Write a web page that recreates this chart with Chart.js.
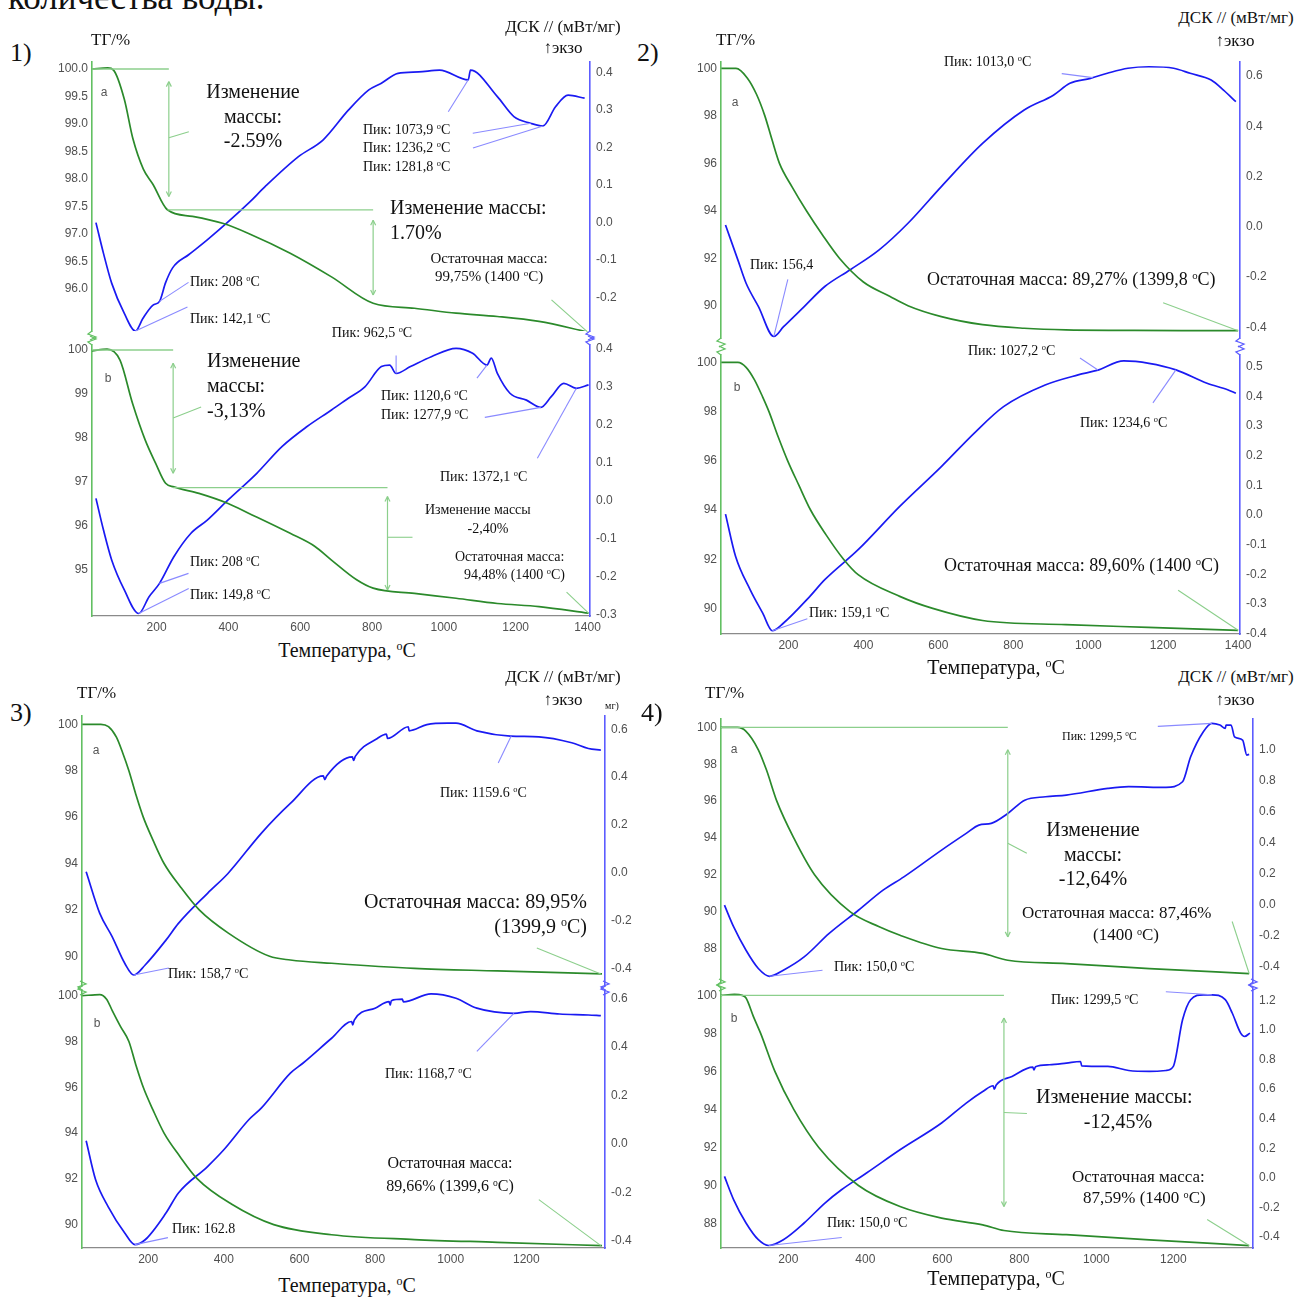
<!DOCTYPE html>
<html>
<head>
<meta charset="utf-8">
<title>ТГ / ДСК</title>
<script src="https://cdn.jsdelivr.net/npm/chart.js@4.4.1/dist/chart.umd.min.js"></script>
<style>
  body { margin: 0; background: #fff; }
  #page { position: relative; width: 1302px; height: 1297px; overflow: hidden;
          font-family: 'Liberation Serif', 'Times New Roman', serif; color: #111; }
  #page canvas { position: absolute; }
  .t { position: absolute; white-space: nowrap; line-height: 1.15; }
  .t sup { font-size: 0.6em; vertical-align: 0.55em; line-height: 0; }
  .lt { font-family: 'Liberation Sans', Arial, sans-serif; color: #555; }
</style>
</head>
<body>
<div id="page"></div>
<script>
// ---------- data: temperature (°C) / TG (%) / DSC (mW/mg) ----------
// 1a
const p1aTgT = [20, 64, 80, 110, 134, 163, 190, 230, 300, 386, 456, 572, 687, 803, 918, 1034, 1149, 1265, 1400];
const p1aTg = [100.0, 100.02, 99.98, 99.45, 98.73, 98.18, 97.9, 97.44, 97.32, 97.19, 97.01, 96.65, 96.22, 95.74, 95.65, 95.56, 95.5, 95.41, 95.22];
const p1aDscT = [31, 52, 75, 110, 141, 162, 190, 208, 225, 245, 290, 341, 456, 502, 595, 664, 734, 791, 826, 872, 930, 988, 1068, 1074, 1149, 1195, 1242, 1276, 1311, 1346, 1392];
const p1aDsc = [0.0, -0.082, -0.162, -0.242, -0.289, -0.255, -0.22, -0.21, -0.16, -0.12, -0.085, -0.046, 0.052, 0.096, 0.176, 0.221, 0.3, 0.354, 0.372, 0.398, 0.402, 0.407, 0.381, 0.407, 0.336, 0.283, 0.265, 0.258, 0.309, 0.34, 0.332];
// 1b
const p1bTgT = [20, 62, 98, 133, 168, 197, 225, 248, 318, 399, 456, 572, 641, 687, 757, 803, 918, 1034, 1149, 1265, 1403];
const p1bTg = [99.98, 100.02, 99.77, 98.78, 97.95, 97.42, 96.96, 96.88, 96.73, 96.5, 96.28, 95.82, 95.52, 95.21, 94.76, 94.57, 94.45, 94.34, 94.22, 94.15, 94.0];
const p1bDscT = [31, 52, 75, 110, 150, 179, 208, 248, 295, 341, 399, 479, 549, 618, 687, 734, 780, 826, 849, 867, 907, 965, 1034, 1080, 1120, 1132, 1149, 1184, 1230, 1270, 1299, 1334, 1369, 1403];
const p1bDsc = [0.006, -0.077, -0.156, -0.234, -0.296, -0.252, -0.217, -0.147, -0.086, -0.051, 0.002, 0.072, 0.142, 0.194, 0.238, 0.269, 0.299, 0.352, 0.356, 0.334, 0.352, 0.378, 0.4, 0.387, 0.356, 0.374, 0.334, 0.282, 0.264, 0.245, 0.273, 0.308, 0.295, 0.304];
// 2a
const p2aTgT = [21, 60, 90, 115, 137, 156, 176, 210, 248, 290, 336, 400, 470, 519, 608, 718, 829, 940, 1100, 1250, 1400];
const p2aTg = [100, 100, 99.6, 98.9, 98, 97, 96, 95, 94, 93, 92, 91, 90.4, 90, 89.54, 89.2, 89.05, 88.98, 88.96, 88.95, 88.95];
const p2aDscT = [32, 65, 87, 120, 161, 187, 242, 297, 364, 442, 519, 608, 718, 829, 907, 951, 1006, 1051, 1106, 1162, 1228, 1272, 1328, 1361, 1394];
const p2aDsc = [0.007, -0.132, -0.225, -0.318, -0.437, -0.398, -0.318, -0.238, -0.172, -0.092, 0.014, 0.16, 0.332, 0.465, 0.524, 0.571, 0.591, 0.611, 0.631, 0.637, 0.631, 0.611, 0.584, 0.544, 0.498];
// 2b
const p2bTgT = [21, 65, 87, 109, 131, 148, 172, 198, 228, 259, 300, 347, 386, 497, 585, 718, 940, 1160, 1400];
const p2bTg = [100, 100, 99.8, 99.3, 98.6, 98, 97, 96, 95, 94, 93, 92, 91.37, 90.49, 90, 89.51, 89.34, 89.23, 89.11];
const p2bDscT = [32, 59, 98, 131, 157, 187, 253, 297, 386, 497, 608, 696, 774, 885, 973, 1023, 1095, 1162, 1234, 1317, 1372, 1394];
const p2bDsc = [0.003, -0.14, -0.252, -0.33, -0.39, -0.364, -0.28, -0.218, -0.117, 0.029, 0.163, 0.276, 0.365, 0.438, 0.472, 0.487, 0.519, 0.511, 0.489, 0.444, 0.422, 0.41];
// 3a
const p3aTgT = [26, 75, 95, 116, 132, 149, 167, 187, 213, 242, 285, 335, 412, 521, 576, 685, 904, 1123, 1400];
const p3aTg = [100, 100, 99.9, 99.45, 98.8, 98, 97, 96, 95, 94, 93, 92, 91, 90, 89.84, 89.7, 89.48, 89.37, 89.24];
const p3aDscT = [36, 72, 105, 138, 162, 192, 247, 280, 357, 411, 499, 576, 663, 667, 672, 740, 743, 748, 806, 830, 833, 888, 890, 937, 992, 1014, 1069, 1158, 1233, 1320, 1364, 1397];
const p3aDsc = [0.004, -0.17, -0.268, -0.379, -0.428, -0.386, -0.282, -0.212, -0.086, -0.003, 0.165, 0.29, 0.405, 0.39, 0.405, 0.485, 0.47, 0.488, 0.562, 0.58, 0.562, 0.611, 0.594, 0.62, 0.626, 0.626, 0.594, 0.572, 0.569, 0.544, 0.52, 0.513];
// 3b
const p3bTgT = [26, 72, 90, 105, 127, 149, 167, 187, 213, 242, 283, 330, 420, 532, 685, 904, 1123, 1400];
const p3bTg = [100, 100.05, 99.85, 99.35, 98.65, 98, 97, 96, 95, 94, 93, 92, 90.9, 90, 89.56, 89.35, 89.23, 89.08];
const p3bDscT = [36, 61, 94, 138, 165, 192, 247, 280, 357, 400, 466, 499, 576, 609, 685, 738, 741, 745, 800, 837, 840, 843, 872, 875, 948, 1014, 1069, 1167, 1211, 1288, 1364, 1397];
const p3bDsc = [0.012, -0.149, -0.259, -0.368, -0.416, -0.396, -0.286, -0.203, -0.094, -0.025, 0.099, 0.147, 0.291, 0.332, 0.435, 0.504, 0.49, 0.51, 0.559, 0.586, 0.572, 0.59, 0.596, 0.585, 0.618, 0.6, 0.559, 0.538, 0.545, 0.535, 0.531, 0.528];
// 4a
const p4aTgT = [25, 68, 90, 122, 143, 170, 214, 268, 360, 436, 490, 598, 705, 770, 922, 1138, 1397];
const p4aTg = [100, 100, 99.79, 98.79, 97.7, 96, 94, 92, 90, 89.18, 88.72, 88, 87.73, 87.36, 87.18, 86.91, 86.64];
const p4aDscT = [34, 58, 90, 122, 151, 187, 241, 306, 382, 446, 500, 598, 662, 695, 727, 770, 814, 868, 922, 1030, 1084, 1181, 1224, 1245, 1278, 1300, 1321, 1335, 1337, 1350, 1359, 1380, 1391, 1397];
const p4aDsc = [-0.005, -0.146, -0.297, -0.415, -0.465, -0.426, -0.34, -0.188, -0.038, 0.092, 0.178, 0.351, 0.459, 0.513, 0.524, 0.588, 0.674, 0.696, 0.707, 0.75, 0.761, 0.757, 0.793, 0.955, 1.117, 1.171, 1.16, 1.139, 1.16, 1.16, 1.084, 1.063, 0.966, 0.97];
// 4b
const p4bTgT = [25, 60, 80, 90, 109, 128, 165, 214, 279, 382, 490, 598, 705, 760, 922, 1138, 1397];
const p4bTg = [100, 100.05, 100, 99.86, 98.9, 98, 96, 94, 92, 90, 88.89, 88.28, 87.93, 87.63, 87.41, 87.14, 86.84];
const p4bDscT = [34, 58, 90, 122, 149, 187, 241, 295, 338, 403, 490, 598, 662, 705, 732, 735, 740, 781, 835, 838, 842, 878, 922, 959, 962, 1030, 1084, 1138, 1181, 1200, 1224, 1245, 1278, 1300, 1335, 1353, 1375, 1385, 1399];
const p4bDsc = [0.01, -0.148, -0.305, -0.418, -0.457, -0.418, -0.305, -0.17, -0.08, 0.033, 0.19, 0.371, 0.506, 0.584, 0.623, 0.6, 0.628, 0.686, 0.749, 0.73, 0.752, 0.765, 0.776, 0.787, 0.758, 0.754, 0.726, 0.72, 0.726, 0.754, 1.069, 1.205, 1.238, 1.238, 1.205, 1.115, 0.979, 0.956, 0.979];

// ---------- tick values / labels ----------
const tg1aTicks = [100, 99.5, 99, 98.5, 98, 97.5, 97, 96.5, 96];
const tg1aLabels = ['100.0', '99.5', '99.0', '98.5', '98.0', '97.5', '97.0', '96.5', '96.0'];
const tg1bTicks = [100, 99, 98, 97, 96, 95];
const tg1bLabels = ['100', '99', '98', '97', '96', '95'];
const tgEvenTicks = [100, 98, 96, 94, 92, 90];
const tgEvenLabels = ['100', '98', '96', '94', '92', '90'];
const tg4Ticks = [100, 98, 96, 94, 92, 90, 88];
const tg4Labels = ['100', '98', '96', '94', '92', '90', '88'];
const dsc1aTicks = [0.4, 0.3, 0.2, 0.1, 0, -0.1, -0.2];
const dsc1aLabels = ['0.4', '0.3', '0.2', '0.1', '0.0', '-0.1', '-0.2'];
const dsc1bTicks = [0.4, 0.3, 0.2, 0.1, 0, -0.1, -0.2, -0.3];
const dsc1bLabels = ['0.4', '0.3', '0.2', '0.1', '0.0', '-0.1', '-0.2', '-0.3'];
const dsc6Ticks = [0.6, 0.4, 0.2, 0, -0.2, -0.4];
const dsc6Labels = ['0.6', '0.4', '0.2', '0.0', '-0.2', '-0.4'];
const dsc2bTicks = [0.5, 0.4, 0.3, 0.2, 0.1, 0, -0.1, -0.2, -0.3, -0.4];
const dsc2bLabels = ['0.5', '0.4', '0.3', '0.2', '0.1', '0.0', '-0.1', '-0.2', '-0.3', '-0.4'];
const dsc4aTicks = [1.0, 0.8, 0.6, 0.4, 0.2, 0, -0.2, -0.4];
const dsc4aLabels = ['1.0', '0.8', '0.6', '0.4', '0.2', '0.0', '-0.2', '-0.4'];
const dsc4bTicks = [1.2, 1.0, 0.8, 0.6, 0.4, 0.2, 0, -0.2, -0.4];
const dsc4bLabels = ['1.2', '1.0', '0.8', '0.6', '0.4', '0.2', '0.0', '-0.2', '-0.4'];
const xTicksTo1400 = [200, 400, 600, 800, 1000, 1200, 1400];
const xLabelsTo1400 = ['200', '400', '600', '800', '1000', '1200', '1400'];
const xTicksTo1200 = [200, 400, 600, 800, 1000, 1200];
const xLabelsTo1200 = ['200', '400', '600', '800', '1000', '1200'];

// ---------- styles ----------
const TG_COLOR = '#2b8a2b', DSC_COLOR = '#1a1af2';
const TG_AXIS = '#62c062', DSC_AXIS = '#5c5cff';
const NOTE_GREEN = '#8ccf8c', NOTE_BLUE = '#8a8aff';
const TICK_FONT = { family: 'Liberation Sans', size: 12 };
const ML = 46, MR = 44, PT = 14, PB = 14, XH = 22;

const page = document.getElementById('page');

function interp(pts, t) {
    if (t <= pts[0].x) return pts[0].y;
    for (let i = 1; i < pts.length; i++) {
        if (t <= pts[i].x) {
            const a = pts[i - 1], b = pts[i];
            return a.y + (b.y - a.y) * (t - a.x) / (b.x - a.x);
        }
    }
    return pts[pts.length - 1].y;
}

function seg(ctx, x1, y1, x2, y2, color, w) {
    ctx.strokeStyle = color;
    ctx.lineWidth = w || 1;
    ctx.beginPath();
    ctx.moveTo(x1, y1);
    ctx.lineTo(x2, y2);
    ctx.stroke();
}

// draws reference lines, arrows, leader lines and axis breaks
const notesPlugin = {
    id: 'notes',
    afterDatasetsDraw(chart, args, o) {
        const { ctx, chartArea: a } = chart;
        const { x, y, y2 } = chart.scales;
        const ds = chart.data.datasets;
        ctx.save();
        (o.hlines || []).forEach(h => {
            const py = y.getPixelForValue(h.v);
            seg(ctx, x.getPixelForValue(h.t1), py, x.getPixelForValue(h.t2), py, NOTE_GREEN, 1.3);
        });
        (o.arrows || []).forEach(h => {
            const px = x.getPixelForValue(h.t);
            const p1 = y.getPixelForValue(h.v1), p2 = y.getPixelForValue(h.v2);
            seg(ctx, px, p1, px, p2, NOTE_GREEN, 1.2);
            seg(ctx, px - 2.5, p1 + 5, px, p1, NOTE_GREEN, 1.2);
            seg(ctx, px + 2.5, p1 + 5, px, p1, NOTE_GREEN, 1.2);
            seg(ctx, px - 2.5, p2 - 5, px, p2, NOTE_GREEN, 1.2);
            seg(ctx, px + 2.5, p2 - 5, px, p2, NOTE_GREEN, 1.2);
        });
        (o.leaders || []).forEach(l => {
            let v, sc, col;
            if (l.s !== undefined) {
                v = interp(ds[l.s].data, l.t);
                sc = l.s === 0 ? y : y2;
                col = l.s === 0 ? NOTE_GREEN : NOTE_BLUE;
            } else {
                v = l.v; sc = y; col = NOTE_GREEN;
            }
            const px = x.getPixelForValue(l.t), py = sc.getPixelForValue(v);
            seg(ctx, px, py, px + l.dx, py + l.dy, col, 1.1);
        });
        if (o.brk) {
            const zig = (px, py, dir, col) => {
                ctx.strokeStyle = col;
                ctx.lineWidth = 1.3;
                ctx.beginPath();
                ctx.moveTo(px, py);
                ctx.lineTo(px - 4, py + 3 * dir);
                ctx.lineTo(px + 4, py + 6 * dir);
                ctx.lineTo(px - 2, py + 9 * dir);
                ctx.stroke();
            };
            const py = o.brk === 'bottom' ? a.bottom : a.top;
            const dir = o.brk === 'bottom' ? 1 : -1;
            zig(a.left, py, dir, TG_AXIS);
            zig(a.right, py, dir, DSC_AXIS);
        }
        ctx.restore();
    }
};

const fitTo = size => s => {
    if (s.isHorizontal()) s.height = size; else s.width = size;
    s.paddingTop = 0; s.paddingBottom = 0; s.paddingLeft = 0; s.paddingRight = 0;
};
const useTicks = (vals) => s => { s.ticks = vals.map(v => ({ value: v })); };
const labelFor = (vals, labels) => v => {
    const i = vals.indexOf(v);
    return i >= 0 ? labels[i] : '';
};

function buildPlot(p) {
    const hasX = !!p.xTicks;
    const W = (p.r - p.l) + ML + MR;
    const H = (p.b - p.t) + PT + (hasX ? XH : PB);
    const cv = document.createElement('canvas');
    cv.width = W; cv.height = H;
    cv.style.left = (p.l - ML) + 'px';
    cv.style.top = (p.t - PT) + 'px';
    cv.style.width = W + 'px';
    cv.style.height = H + 'px';
    page.appendChild(cv);

    const pts = (T, V) => T.map((t, i) => ({ x: t, y: V[i] }));

    new Chart(cv, {
        type: 'line',
        data: {
            datasets: [
                { data: pts(p.tgT, p.tgV), yAxisID: 'y', borderColor: TG_COLOR, borderWidth: 1.7,
                  pointRadius: 0, cubicInterpolationMode: 'monotone' },
                { data: pts(p.dscT, p.dscV), yAxisID: 'y2', borderColor: DSC_COLOR, borderWidth: 1.7,
                  pointRadius: 0, cubicInterpolationMode: 'monotone' }
            ]
        },
        options: {
            responsive: false,
            animation: false,
            devicePixelRatio: 1,
            events: [],
            layout: { padding: { top: PT, bottom: hasX ? 0 : PB, left: 0, right: 0 } },
            plugins: { legend: { display: false }, tooltip: { enabled: false }, notes: p.notes },
            scales: {
                x: {
                    type: 'linear', min: p.x[0], max: p.x[1], display: hasX, position: 'bottom',
                    afterFit: fitTo(hasX ? XH : 0),
                    afterBuildTicks: useTicks(p.xTicks || []),
                    grid: { display: false, drawTicks: false },
                    border: { display: true, color: '#8a8a8a', width: 1.2 },
                    ticks: { autoSkip: false, maxRotation: 0, padding: 4, color: '#505050', font: TICK_FONT,
                             callback: labelFor(p.xTicks || [], p.xLabels || []) }
                },
                y: {
                    position: 'left', min: p.tg[0], max: p.tg[1],
                    afterFit: fitTo(ML),
                    afterBuildTicks: useTicks(p.tgTicks),
                    grid: { display: false, drawTicks: false },
                    border: { display: true, color: TG_AXIS, width: 1.6 },
                    ticks: { padding: 4, color: '#505050', font: TICK_FONT, callback: labelFor(p.tgTicks, p.tgLabels) }
                },
                y2: {
                    position: 'right', min: p.dsc[0], max: p.dsc[1],
                    afterFit: fitTo(MR),
                    afterBuildTicks: useTicks(p.dscTicks),
                    grid: { display: false, drawTicks: false },
                    border: { display: true, color: DSC_AXIS, width: 1.6 },
                    ticks: { padding: 6, color: '#505050', font: TICK_FONT, callback: labelFor(p.dscTicks, p.dscLabels) }
                }
            }
        },
        plugins: [notesPlugin]
    });
}

// ---------- sub-plots ----------
const plots = [
    { l: 92, t: 62, r: 590, b: 331, x: [20, 1407], tg: [95.236, 100.127], dsc: [-0.289, 0.4285],
      tgT: p1aTgT, tgV: p1aTg, dscT: p1aDscT, dscV: p1aDsc,
      tgTicks: tg1aTicks, tgLabels: tg1aLabels, dscTicks: dsc1aTicks, dscLabels: dsc1aLabels,
      notes: { brk: 'bottom',
        hlines: [{ v: 100, t1: 20, t2: 234 }, { v: 97.44, t1: 230, t2: 803 }],
        arrows: [{ t: 234, v1: 99.77, v2: 97.68 }, { t: 803, v1: 97.25, v2: 95.89 }],
        leaders: [{ t: 234, v: 98.75, dx: 20, dy: -6 }, { s: 0, t: 1400, dx: -36, dy: -32 },
                  { s: 1, t: 1068, dx: -20, dy: 32 }, { s: 1, t: 1242, dx: -58, dy: 10 },
                  { s: 1, t: 1276, dx: -70, dy: 22 }, { s: 1, t: 208, dx: 29, dy: -19 },
                  { s: 1, t: 141, dx: 52, dy: -24 }] } },
    { l: 92, t: 345, r: 590, b: 616, x: [20, 1407], tg: [93.935, 100.114], dsc: [-0.3026, 0.4087],
      tgT: p1bTgT, tgV: p1bTg, dscT: p1bDscT, dscV: p1bDsc,
      tgTicks: tg1bTicks, tgLabels: tg1bLabels, dscTicks: dsc1bTicks, dscLabels: dsc1bLabels,
      xTicks: xTicksTo1400, xLabels: xLabelsTo1400,
      notes: { brk: 'top',
        hlines: [{ v: 100, t1: 20, t2: 246 }, { v: 96.86, t1: 246, t2: 843 }],
        arrows: [{ t: 246, v1: 99.7, v2: 97.19 }, { t: 843, v1: 96.66, v2: 94.53 }],
        leaders: [{ t: 246, v: 98.45, dx: 28, dy: -11 }, { t: 843, v: 95.73, dx: 25, dy: 0 },
                  { s: 0, t: 1403, dx: -22, dy: -21 },
                  { s: 1, t: 867, dx: 0, dy: -18 }, { s: 1, t: 1120, dx: -10, dy: 13 },
                  { s: 1, t: 1270, dx: -56, dy: 10 }, { s: 1, t: 1369, dx: -39, dy: 70 },
                  { s: 1, t: 208, dx: 29, dy: -10 }, { s: 1, t: 150, dx: 50, dy: -25 }] } },
    { l: 721, t: 62, r: 1240, b: 338, x: [20, 1405], tg: [88.64, 100.27], dsc: [-0.443, 0.656],
      tgT: p2aTgT, tgV: p2aTg, dscT: p2aDscT, dscV: p2aDsc,
      tgTicks: tgEvenTicks, tgLabels: tgEvenLabels, dscTicks: dsc6Ticks, dscLabels: dsc6Labels,
      notes: { brk: 'bottom',
        leaders: [{ s: 1, t: 1012, dx: -31, dy: -4 }, { s: 1, t: 161, dx: 14, dy: -57 },
                  { s: 0, t: 1400, dx: -75, dy: -28 }] } },
    { l: 721, t: 355, r: 1240, b: 634, x: [20, 1405], tg: [88.96, 100.3], dsc: [-0.401, 0.539],
      tgT: p2bTgT, tgV: p2bTg, dscT: p2bDscT, dscV: p2bDsc,
      tgTicks: tgEvenTicks, tgLabels: tgEvenLabels, dscTicks: dsc2bTicks, dscLabels: dsc2bLabels,
      xTicks: xTicksTo1400, xLabels: xLabelsTo1400,
      notes: { brk: 'top',
        leaders: [{ s: 1, t: 1026, dx: -18, dy: -12 }, { s: 1, t: 1234, dx: -23, dy: 33 },
                  { s: 1, t: 157, dx: 35, dy: -12 }, { s: 0, t: 1400, dx: -60, dy: -40 }] } },
    { l: 82, t: 716, r: 605, b: 986, x: [25, 1408], tg: [88.72, 100.36], dsc: [-0.474, 0.656],
      tgT: p3aTgT, tgV: p3aTg, dscT: p3aDscT, dscV: p3aDsc,
      tgTicks: tgEvenTicks, tgLabels: tgEvenLabels, dscTicks: dsc6Ticks, dscLabels: dsc6Labels,
      notes: { brk: 'bottom',
        leaders: [{ s: 1, t: 1160, dx: -13, dy: 27 }, { s: 1, t: 162, dx: 35, dy: -7 },
                  { s: 0, t: 1397, dx: -64, dy: -26 }] } },
    { l: 82, t: 990, r: 605, b: 1248, x: [25, 1408], tg: [88.98, 100.25], dsc: [-0.43, 0.634],
      tgT: p3bTgT, tgV: p3bTg, dscT: p3bDscT, dscV: p3bDsc,
      tgTicks: tgEvenTicks, tgLabels: tgEvenLabels, dscTicks: dsc6Ticks, dscLabels: dsc6Labels,
      xTicks: xTicksTo1200, xLabels: xLabelsTo1200,
      notes: { brk: 'top',
        leaders: [{ s: 1, t: 1167, dx: -37, dy: 38 }, { s: 1, t: 165, dx: 33, dy: -7 },
                  { s: 0, t: 1397, dx: -62, dy: -46 }] } },
    { l: 721, t: 719, r: 1253, b: 982, x: [25, 1407], tg: [86.18, 100.46], dsc: [-0.502, 1.199],
      tgT: p4aTgT, tgV: p4aTg, dscT: p4aDscT, dscV: p4aDsc,
      tgTicks: tg4Ticks, tgLabels: tg4Labels, dscTicks: dsc4aTicks, dscLabels: dsc4aLabels,
      notes: { brk: 'bottom',
        hlines: [{ v: 100, t1: 25, t2: 770 }],
        arrows: [{ t: 770, v1: 98.79, v2: 88.63 }],
        leaders: [{ t: 770, v: 93.71, dx: 19, dy: 10 }, { s: 0, t: 1397, dx: -17, dy: -52 },
                  { s: 1, t: 1300, dx: -54, dy: 3 }, { s: 1, t: 151, dx: 53, dy: -6 }] } },
    { l: 721, t: 988, r: 1253, b: 1248, x: [25, 1407], tg: [86.71, 100.39], dsc: [-0.474, 1.284],
      tgT: p4bTgT, tgV: p4bTg, dscT: p4bDscT, dscV: p4bDsc,
      tgTicks: tg4Ticks, tgLabels: tg4Labels, dscTicks: dsc4bTicks, dscLabels: dsc4bLabels,
      xTicks: xTicksTo1200, xLabels: xLabelsTo1200,
      notes: { brk: 'top',
        hlines: [{ v: 100, t1: 25, t2: 760 }],
        arrows: [{ t: 760, v1: 98.81, v2: 88.89 }],
        leaders: [{ t: 760, v: 93.84, dx: 23, dy: 1 }, { s: 0, t: 1397, dx: -42, dy: -26 },
                  { s: 1, t: 1300, dx: -46, dy: -3 }, { s: 1, t: 149, dx: 73, dy: -8 }] } }
];
plots.forEach(buildPlot);

// ---------- texts: [text, x, y(centre), size, align, clipWidth, sans] ----------
const texts = [
    ['количества воды.', 8, -2, 35, 'l'],
    ['1)', 10, 53, 26, 'l'], ['2)', 637, 53, 26, 'l'], ['3)', 10, 713, 26, 'l'], ['4)', 641, 713, 26, 'l'],
    ['ТГ/%', 91, 40, 17, 'l'], ['ТГ/%', 716, 40, 17, 'l'], ['ТГ/%', 77, 693, 17, 'l'], ['ТГ/%', 705, 693, 17, 'l'],
    ['ДСК // (мВт/мг)', 563, 27, 17, 'c'], ['↑экзо', 563, 48, 17, 'c'],
    ['ДСК // (мВт/мг)', 1236, 18, 17, 'c'], ['↑экзо', 1235, 41, 17, 'c'],
    ['ДСК // (мВт/мг)', 563, 677, 17, 'c'], ['↑экзо', 563, 700, 17, 'c'],
    ['ДСК // (мВт/мг)', 1236, 677, 17, 'c'], ['↑экзо', 1235, 700, 17, 'c'],
    ['мг)', 612, 706, 10, 'c'],
    ['Температура, °C', 347, 650, 20, 'c'], ['Температура, °C', 996, 667, 20, 'c'],
    ['Температура, °C', 347, 1285, 20, 'c'], ['Температура, °C', 996, 1278, 20, 'c'],
    ['a', 104, 93, 12, 'c', 0, true], ['b', 108, 379, 12, 'c', 0, true],
    ['a', 735, 103, 12, 'c', 0, true], ['b', 737, 388, 12, 'c', 0, true],
    ['a', 96, 751, 12, 'c', 0, true], ['b', 97, 1024, 12, 'c', 0, true],
    ['a', 734, 750, 12, 'c', 0, true], ['b', 734, 1019, 12, 'c', 0, true],
    // 1a
    ['Изменение', 253, 91, 20, 'c'], ['массы:', 253, 116, 20, 'c'], ['-2.59%', 253, 140, 20, 'c'],
    ['Пик: 1073,9 °C', 363, 130, 14, 'l'], ['Пик: 1236,2 °C', 363, 148, 14, 'l'], ['Пик: 1281,8 °C', 363, 167, 14, 'l'],
    ['Изменение массы:', 390, 207, 20, 'l'], ['1.70%', 390, 232, 20, 'l'],
    ['Остаточная масса:', 489, 259, 15, 'c'], ['99,75% (1400 °C)', 489, 277, 15, 'c'],
    ['Пик: 208 °C', 190, 282, 14, 'l'], ['Пик: 142,1 °C', 190, 319, 14, 'l'],
    ['Пик: 962,5 °C', 372, 333, 14, 'c'],
    // 1b
    ['Изменение', 207, 360, 20, 'l'], ['массы:', 207, 385, 20, 'l'], ['-3,13%', 207, 410, 20, 'l'],
    ['Пик: 1120,6 °C', 381, 396, 14, 'l'], ['Пик: 1277,9 °C', 381, 415, 14, 'l'],
    ['Пик: 1372,1 °C', 440, 477, 14, 'l'],
    ['Изменение массы', 425, 510, 14, 'l', 116], ['-2,40%', 488, 529, 14, 'c'],
    ['Остаточная масса:', 455, 557, 14, 'l'], ['94,48% (1400 °C)', 464, 575, 14, 'l'],
    ['Пик: 208 °C', 190, 562, 14, 'l'], ['Пик: 149,8 °C', 190, 595, 14, 'l'],
    // 2a
    ['Пик: 1013,0 °C', 944, 62, 14, 'l'], ['Пик: 156,4', 750, 265, 14, 'l'],
    ['Остаточная масса: 89,27% (1399,8 °C)', 927, 279, 18, 'l'],
    // 2b
    ['Пик: 1027,2 °C', 968, 351, 14, 'l'], ['Пик: 1234,6 °C', 1080, 423, 14, 'l'],
    ['Остаточная масса: 89,60% (1400 °C)', 944, 565, 18, 'l'], ['Пик: 159,1 °C', 809, 613, 14, 'l'],
    // 3a
    ['Пик: 1159.6 °C', 440, 793, 14, 'l'],
    ['Остаточная масса: 89,95%', 587, 901, 20, 'r'], ['(1399,9 °C)', 587, 926, 20, 'r'],
    ['Пик: 158,7 °C', 168, 974, 14, 'l'],
    // 3b
    ['Пик: 1168,7 °C', 385, 1074, 14, 'l'],
    ['Остаточная масса:', 450, 1163, 16, 'c'], ['89,66% (1399,6 °C)', 450, 1186, 16, 'c'],
    ['Пик: 162.8', 172, 1229, 14, 'l'],
    // 4a
    ['Пик: 1299,5 °C', 1062, 737, 12, 'l'],
    ['Изменение', 1093, 829, 20, 'c'], ['массы:', 1093, 854, 20, 'c'], ['-12,64%', 1093, 878, 20, 'c'],
    ['Остаточная масса: 87,46%', 1022, 913, 17, 'l'], ['(1400 °C)', 1126, 935, 17, 'c'],
    ['Пик: 150,0 °C', 834, 967, 14, 'l'],
    // 4b
    ['Пик: 1299,5 °C', 1051, 1000, 14, 'l'],
    ['Изменение массы:', 1036, 1096, 20, 'l'], ['-12,45%', 1118, 1121, 20, 'c'],
    ['Остаточная масса:', 1072, 1177, 17, 'l'], ['87,59% (1400 °C)', 1083, 1198, 17, 'l'],
    ['Пик: 150,0 °C', 827, 1223, 14, 'l']
];

texts.forEach(([s, x, y, size, align, clip, sans]) => {
    const d = document.createElement('div');
    d.className = sans ? 't lt' : 't';
    d.innerHTML = s.replace(/°C/g, '<sup>o</sup>C');
    d.style.left = x + 'px';
    d.style.top = y + 'px';
    d.style.fontSize = size + 'px';
    const tx = align === 'c' ? '-50%' : align === 'r' ? '-100%' : '0';
    d.style.transform = `translate(${tx}, -50%)`;
    if (clip) { d.style.width = clip + 'px'; d.style.overflow = 'hidden'; }
    page.appendChild(d);
});
</script>
</body>
</html>
